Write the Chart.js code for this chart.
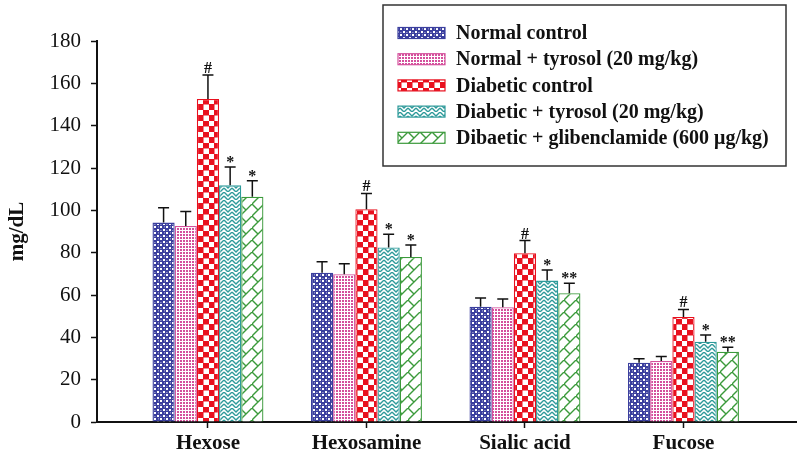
<!DOCTYPE html>
<html>
<head>
<meta charset="utf-8">
<script src="https://cdn.jsdelivr.net/npm/chart.js"></script>
<style>
  html, body { margin: 0; padding: 0; background: #fff; }
  #wrap { width: 800px; height: 453px; }
</style>
</head>
<body>
<div id="wrap"><canvas id="chart" width="800" height="453"></canvas></div>
<script>
// Chart data
const categories = ['Hexose', 'Hexosamine', 'Sialic acid', 'Fucose'];
const seriesLabels = [
    'Normal control',
    'Normal + tyrosol (20 mg/kg)',
    'Diabetic control',
    'Diabetic + tyrosol (20 mg/kg)',
    'Dibaetic + glibenclamide (600 \u03bcg/kg)'
];
const yTicks = [0, 20, 40, 60, 80, 100, 120, 140, 160, 180];

const normalControl   = [94.2, 70.5, 54.5, 28.0];
const normalTyrosol   = [92.6, 69.8, 54.2, 28.8];
const diabeticControl = [152.6, 100.5, 79.7, 49.6];
const diabeticTyrosol = [111.8, 82.5, 66.8, 37.9];
const diabeticGlib    = [106.4, 78.0, 60.8, 33.2];

const normalControlErr   = [7.0, 5.2, 4.1, 1.9];
const normalTyrosolErr   = [6.8, 5.0, 3.9, 2.1];
const diabeticControlErr = [11.3, 7.5, 6.0, 3.6];
const diabeticTyrosolErr = [8.7, 6.2, 5.0, 3.2];
const diabeticGlibErr    = [7.6, 5.6, 4.7, 2.1];

const normalControlMarks   = ['', '', '', ''];
const normalTyrosolMarks   = ['', '', '', ''];
const diabeticControlMarks = ['#', '#', '#', '#'];
const diabeticTyrosolMarks = ['*', '*', '*', '*'];
const diabeticGlibMarks    = ['*', '*', '**', '**'];

const seriesValues = [normalControl, normalTyrosol, diabeticControl, diabeticTyrosol, diabeticGlib];
const seriesErrors = [normalControlErr, normalTyrosolErr, diabeticControlErr, diabeticTyrosolErr, diabeticGlibErr];
const seriesMarks = [normalControlMarks, normalTyrosolMarks, diabeticControlMarks, diabeticTyrosolMarks, diabeticGlibMarks];

const serif = '"Liberation Serif", "Times New Roman", serif';

// Hatch patterns
function makePattern(size, draw) {
    const c = document.createElement('canvas');
    c.width = size;
    c.height = size;
    const g = c.getContext('2d');
    g.fillStyle = '#fff';
    g.fillRect(0, 0, size, size);
    draw(g, size);
    return g.createPattern(c, 'repeat');
}

const seriesColors = ['#3b3f9e', '#d4509c', '#e8101e', '#2e9a9a', '#3b9a3b'];

const seriesPatterns = [
    makePattern(6, (g) => {
        g.fillStyle = seriesColors[0];
        g.fillRect(0, 0, 6, 6);
        g.fillStyle = '#fff';
        g.fillRect(1, 1, 2, 2);
        g.fillRect(4, 4, 2, 2);
        g.fillRect(2, 4.5, 0.8, 0.8);
        g.fillRect(4.5, 2, 0.8, 0.8);
    }),
    makePattern(3, (g) => {
        g.fillStyle = seriesColors[1];
        g.fillRect(0, 0, 2, 2);
    }),
    makePattern(11, (g) => {
        g.fillStyle = seriesColors[2];
        g.fillRect(0, 0, 11, 11);
        g.fillStyle = '#fff';
        g.fillRect(0, 0, 5, 5);
        g.fillRect(5.5, 5.5, 5.5, 5.5);
    }),
    makePattern(8, (g) => {
        g.strokeStyle = seriesColors[3];
        g.lineWidth = 1.4;
        g.beginPath();
        g.moveTo(0, 0); g.lineTo(4, 4); g.lineTo(8, 0);
        g.moveTo(0, 4); g.lineTo(4, 8); g.lineTo(8, 4);
        g.stroke();
    }),
    makePattern(12, (g) => {
        g.strokeStyle = seriesColors[4];
        g.lineWidth = 1.4;
        g.beginPath();
        g.moveTo(0, 12); g.lineTo(12, 0);
        g.moveTo(0, 0); g.lineTo(6, 6);
        g.stroke();
    })
];

// Error bars and significance marks
const errorBarPlugin = {
    id: 'errorBars',
    afterDatasetsDraw(chart) {
        const ctx = chart.ctx;
        const y = chart.scales.y;
        ctx.save();
        ctx.strokeStyle = '#111';
        ctx.lineWidth = 1.5;
        ctx.fillStyle = '#111';
        ctx.font = 'bold 16px ' + serif;
        ctx.textAlign = 'center';
        ctx.textBaseline = 'alphabetic';
        chart.data.datasets.forEach((ds, i) => {
            const meta = chart.getDatasetMeta(i);
            meta.data.forEach((bar, j) => {
                const top = y.getPixelForValue(seriesValues[i][j] + seriesErrors[i][j]);
                ctx.beginPath();
                ctx.moveTo(bar.x, bar.y);
                ctx.lineTo(bar.x, top);
                ctx.moveTo(bar.x - 5.5, top);
                ctx.lineTo(bar.x + 5.5, top);
                ctx.stroke();
                const mark = seriesMarks[i][j];
                if (mark) {
                    ctx.fillText(mark, bar.x, top - (mark === '#' ? 2 : 0));
                }
            });
        });
        ctx.restore();
    }
};

// Boxed legend inside the plot
const boxLegendPlugin = {
    id: 'boxLegend',
    afterDraw(chart) {
        const ctx = chart.ctx;
        ctx.save();
        ctx.strokeStyle = '#333';
        ctx.lineWidth = 1.5;
        ctx.strokeRect(383, 5, 403, 161);
        ctx.font = 'bold 20px ' + serif;
        ctx.textBaseline = 'middle';
        ctx.textAlign = 'left';
        seriesLabels.forEach((label, i) => {
            const cy = 33 + i * 26.2;
            ctx.fillStyle = seriesPatterns[i];
            ctx.fillRect(398, cy - 5.5, 47, 11);
            ctx.strokeStyle = seriesColors[i];
            ctx.lineWidth = 1.2;
            ctx.strokeRect(398, cy - 5.5, 47, 11);
            ctx.fillStyle = '#111';
            ctx.fillText(label, 456, cy + 1);
        });
        ctx.restore();
    }
};

const datasets = seriesLabels.map((label, i) => ({
    label: label,
    data: seriesValues[i].map((v, k) => ({ x: k, y: v })),
    backgroundColor: seriesPatterns[i],
    borderColor: seriesColors[i],
    borderWidth: 1.3,
    categoryPercentage: 0.7,
    barPercentage: 1.0
}));

new Chart(document.getElementById('chart'), {
    type: 'bar',
    data: { datasets: datasets },
    plugins: [errorBarPlugin, boxLegendPlugin],
    options: {
        responsive: false,
        animation: false,
        layout: { padding: { top: 41, right: 4, bottom: 0, left: 0 } },
        plugins: {
            legend: { display: false },
            tooltip: { enabled: false }
        },
        scales: {
            x: {
                type: 'linear',
                min: -0.70,
                max: 3.71,
                offset: false,
                afterBuildTicks: (axis) => {
                    axis.ticks = categories.map((c, i) => ({ value: i }));
                },
                afterFit: (axis) => { axis.height = 31; },
                ticks: {
                    autoSkip: false,
                    maxRotation: 0,
                    padding: 3,
                    color: '#111',
                    font: { family: serif, size: 21, weight: 'bold' },
                    callback: (value) => categories[value]
                },
                grid: {
                    offset: false,
                    drawOnChartArea: false,
                    tickLength: 6,
                    tickColor: '#111',
                    tickWidth: 1.5
                },
                border: { color: '#111', width: 2 }
            },
            y: {
                min: 0,
                max: 180,
                afterBuildTicks: (axis) => {
                    axis.ticks = yTicks.map(v => ({ value: v }));
                },
                afterFit: (axis) => { axis.width = 97; },
                ticks: {
                    padding: 10,
                    color: '#111',
                    font: { family: serif, size: 21 }
                },
                grid: {
                    drawOnChartArea: false,
                    tickLength: 6,
                    tickColor: '#111',
                    tickWidth: 1.5
                },
                border: { color: '#111', width: 2 },
                title: {
                    display: true,
                    text: 'mg/dL',
                    color: '#111',
                    font: { family: serif, size: 21, weight: 'bold' },
                    padding: { top: 5, bottom: 4 }
                }
            }
        }
    }
});
</script>
</body>
</html>
